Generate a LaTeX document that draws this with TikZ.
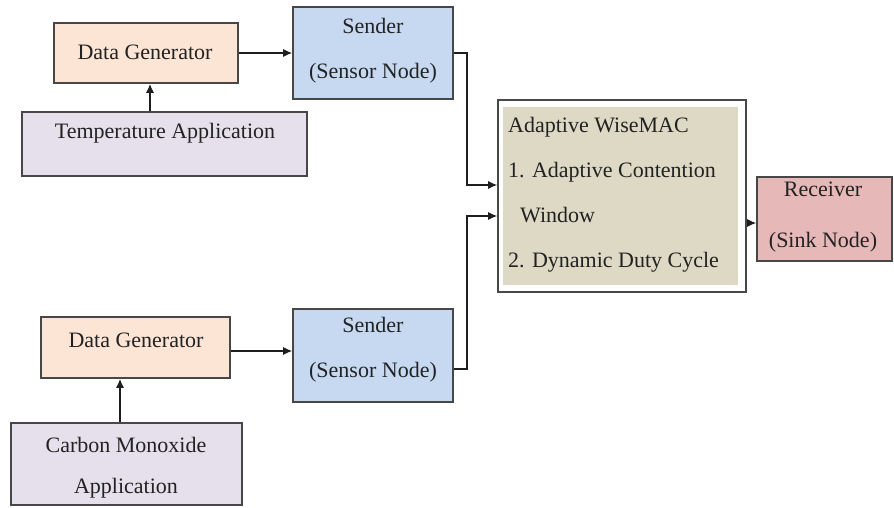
\documentclass[tikz,border=0pt]{standalone}
\usepackage{fontspec}
\setmainfont{Liberation Serif}
\usetikzlibrary{arrows.meta}
\definecolor{boxline}{HTML}{474747}
\definecolor{textc}{HTML}{222222}
\definecolor{arrc}{HTML}{1E1E1E}
\definecolor{peach}{HTML}{FCE5D5}
\definecolor{lav}{HTML}{E5E0EC}
\definecolor{sblue}{HTML}{C6D9F1}
\definecolor{tan}{HTML}{DDD9C5}
\definecolor{pinkr}{HTML}{E6B9B8}
\begin{document}
\begin{tikzpicture}[x=1pt,y=-1pt,
  box/.style={draw=boxline,line width=1.6pt,inner sep=0pt,rectangle},
  txt/.style={font=\fontsize{22}{45}\selectfont,text=textc,inner sep=0pt,align=center},
  arr/.style={draw=arrc,line width=1.3pt,-{Latex[length=9pt,width=8pt]}}]
\useasboundingbox (0,0) rectangle (894,508);
% boxes
\node[box,fill=peach,minimum width=184pt,minimum height=60pt] (dg1) at (146,53) {};
\node[box,fill=lav,minimum width=285pt,minimum height=64pt] (temp) at (164.5,144) {};
\node[box,fill=sblue,minimum width=160pt,minimum height=92pt] (s1) at (373,53) {};
\node[box,fill=white,minimum width=248pt,minimum height=192pt] (ad) at (622,196) {};
\node[fill=tan,inner sep=0pt,minimum width=235pt,minimum height=178pt] (adin) at (620.5,196) {};
\node[box,fill=pinkr,minimum width=135pt,minimum height=84pt] (rc) at (824.5,219) {};
\node[box,fill=peach,minimum width=189pt,minimum height=61pt] (dg2) at (135.5,347.5) {};
\node[box,fill=sblue,minimum width=160pt,minimum height=93pt] (s2) at (373,355.5) {};
\node[box,fill=lav,minimum width=231pt,minimum height=82pt] (co) at (126.5,464) {};
% texts
\node[txt] (tdg1) at (145,52) {Data Generator};
\node[txt] (ttemp) at (165,133) {Temperature Application};
\node[txt] (ts1) at (373,50.5) {Sender\\(Sensor Node)};
\node[txt,align=left,anchor=west] (tad) at (508,195) {Adaptive WiseMAC\\1. Adaptive Contention\\\hspace*{12pt}Window\\2. Dynamic Duty Cycle};
\node[txt,font=\fontsize{22}{51}\selectfont] (trc) at (823,217.5) {Receiver\\(Sink Node)};
\node[txt] (tdg2) at (136,340) {Data Generator};
\node[txt] (ts2) at (373,350) {Sender\\(Sensor Node)};
\node[txt,font=\fontsize{22}{41}\selectfont] (tco) at (126,467.5) {Carbon Monoxide\\Application};
% connector helper coordinates
\coordinate (xa) at (150,0);
\coordinate (xb) at (120,0);
\coordinate (jx) at (467,0);
\coordinate (in1) at (0,185);
\coordinate (in2) at (0,216);
\coordinate (out) at (0,223);
% connectors
\draw[arr] (temp.north -| xa) -- (dg1.south -| xa);
\draw[arr] (dg1.east) -- (s1.west |- dg1.east);
\draw[arr] (s1.east) -- (s1.east -| jx) |- (ad.west |- in1);
\draw[arr] (co.north -| xb) -- (dg2.south -| xb);
\draw[arr] (dg2.east |- 0,351) -- (s2.west |- 0,351);
\draw[arr] (s2.east |- 0,369) -- (jx |- 0,369) |- (ad.west |- in2);
\draw[arr] (ad.east |- out) -- (rc.west |- out);
\end{tikzpicture}
\end{document}
